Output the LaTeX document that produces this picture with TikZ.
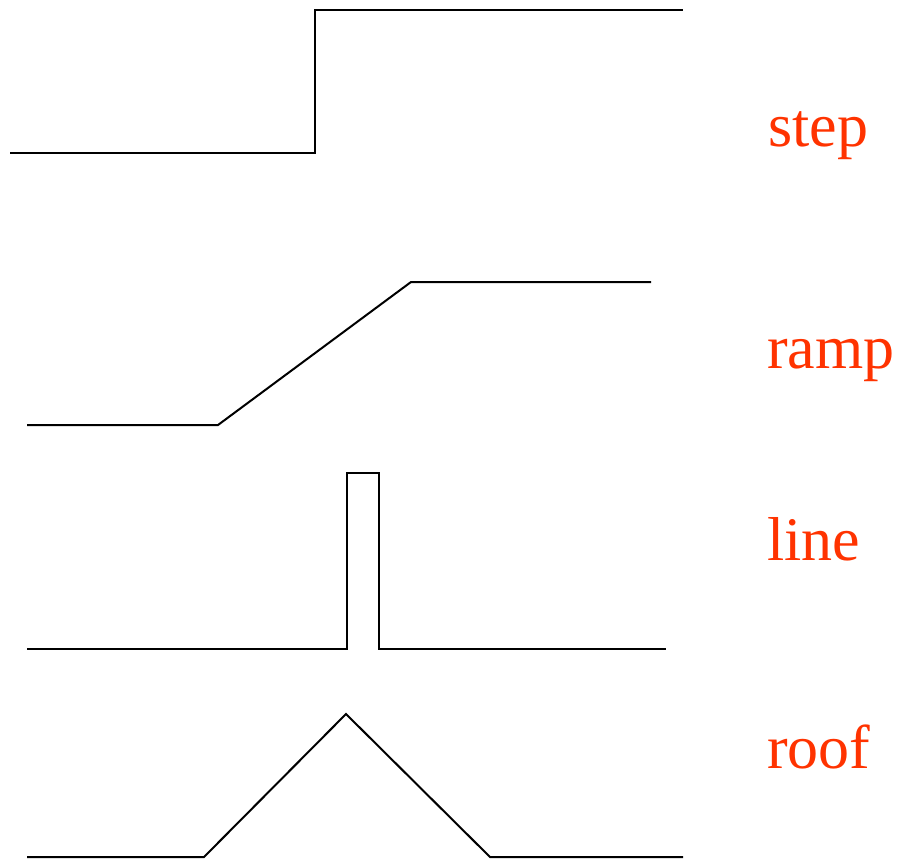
\documentclass[tikz,border=0pt]{standalone}
\usepackage{fontspec}
\setmainfont{Liberation Serif}
\definecolor{labelred}{HTML}{FF3300}
\tikzset{
  profile/.style={draw=black, line width=1.5pt, line join=miter},
  edgelabel/.style={text=labelred, anchor=base west, inner sep=0pt,
    font=\fontsize{46.5}{50}\selectfont}
}
\begin{document}
\begin{tikzpicture}[x=0.75pt, y=-0.75pt]
  \useasboundingbox (0,0) rectangle (900,860);
  % step edge
  \draw[profile] (10,153) -- (315,153) -- (315,10) -- (683,10);
  % ramp edge
  \draw[profile] (27,425) -- (218,425) -- (411,282) -- (651,282);
  % line edge
  \draw[profile] (27,649) -- (347,649) -- (347,473) -- (379,473) -- (379,649) -- (666,649);
  % roof edge
  \draw[profile] (27,857) -- (204,857) -- (346,714) -- (490,857) -- (683,857);
  % labels
  \node[edgelabel] (lstep) at (768,146) {step};
  \node[edgelabel] (lramp) at (767,368) {ramp};
  \node[edgelabel] (lline) at (767,560) {line};
  \node[edgelabel] (lroof) at (767,768) {roof};
\end{tikzpicture}
\end{document}
